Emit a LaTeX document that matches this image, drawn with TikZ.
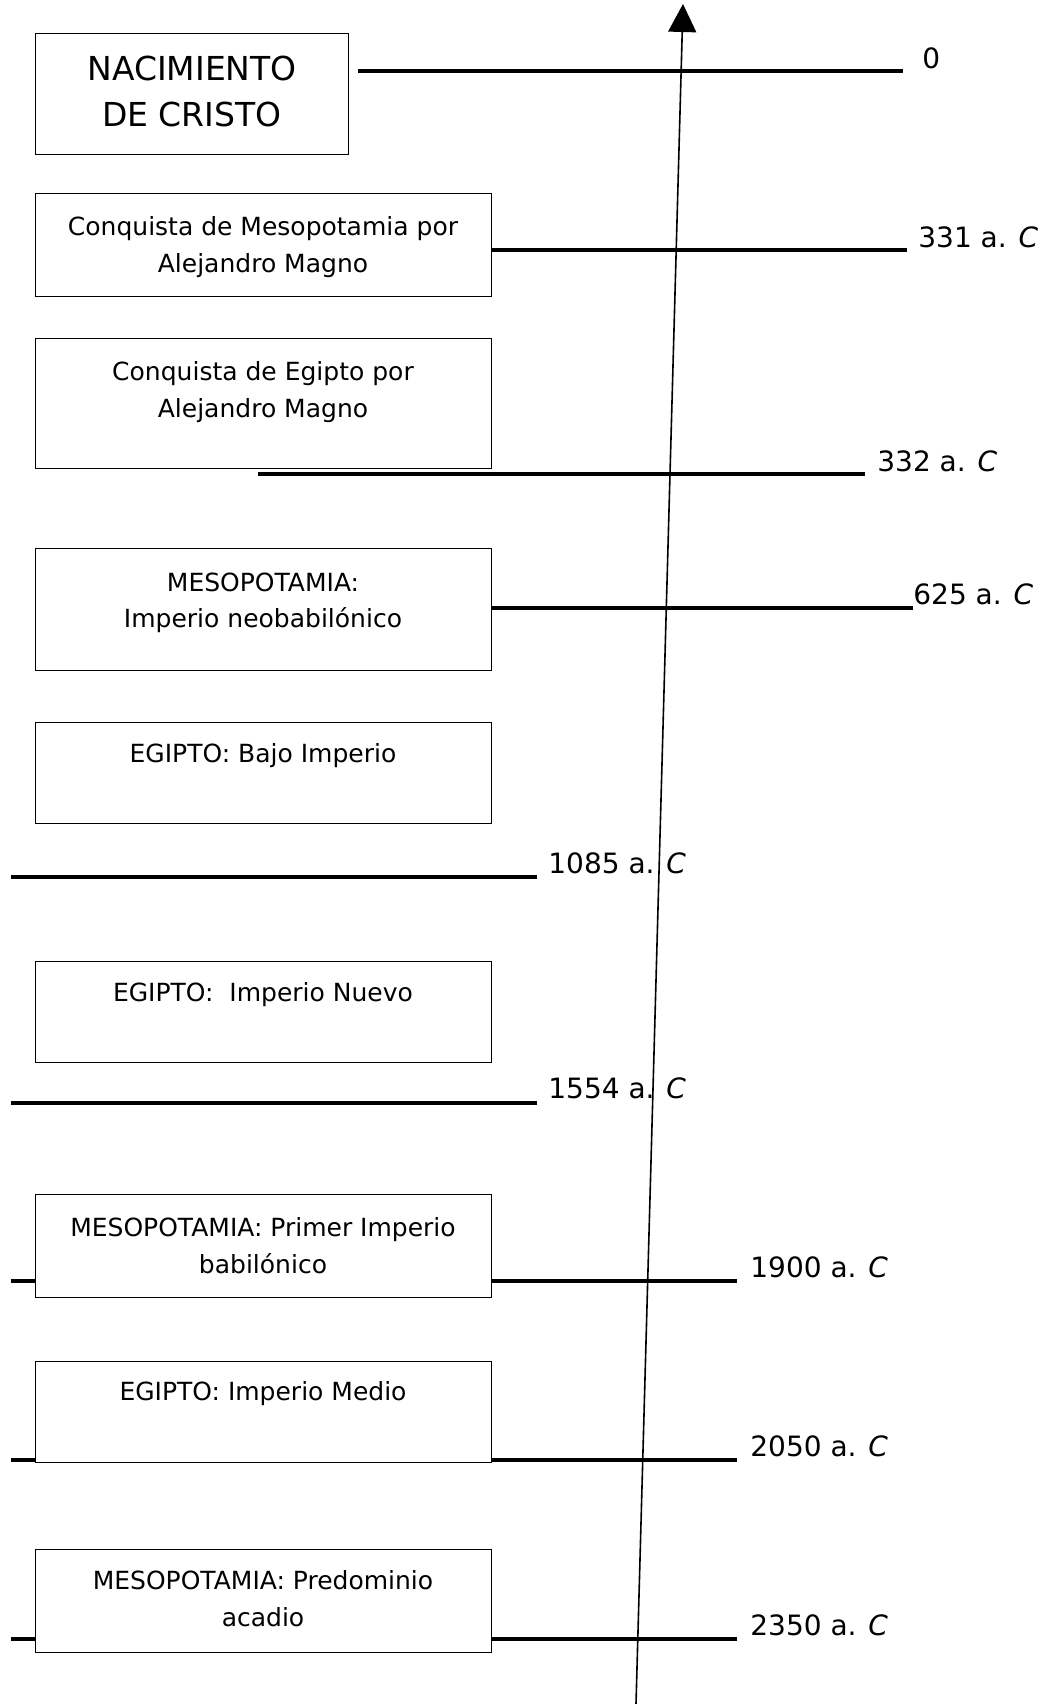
\documentclass[tikz,border=0pt]{standalone}
\usepackage{fontspec}
\setmainfont{DejaVu Sans}
\usetikzlibrary{arrows.meta,calc}
\begin{document}
\begin{tikzpicture}[x=0.5pt,y=-0.5pt,
  box/.style={draw, line width=0.6pt, fill=white, minimum width=228pt, anchor=north west, inner sep=0pt},
  txt/.style={anchor=base, inner sep=0pt, font=\fontsize{12.5}{15}\selectfont},
  bigtxt/.style={anchor=base, inner sep=0pt, font=\fontsize{16.5}{20}\selectfont},
  date/.style={anchor=base west, inner sep=0pt, font=\fontsize{14}{17}\selectfont},
  tick/.style={line width=1.7pt},
  axis/.style={line width=0.8pt, -{Triangle[length=14pt, width=14pt]}}]
\fill[white] (0,0) rectangle (1041,1704);
\useasboundingbox (0,0) rectangle (1041,1704);

% date lines
\coordinate (l0a) at (358,71);   \coordinate (l0b) at (903,71);
\coordinate (l1a) at (491,250);  \coordinate (l1b) at (907,250);
\coordinate (l2a) at (258,474);  \coordinate (l2b) at (865,474);
\coordinate (l3a) at (491,608);  \coordinate (l3b) at (913,608);
\coordinate (l4a) at (11,877);   \coordinate (l4b) at (537,877);
\coordinate (l5a) at (11,1103);  \coordinate (l5b) at (537,1103);
\coordinate (l6a) at (11,1281);  \coordinate (l6b) at (737,1281);
\coordinate (l7a) at (11,1460);  \coordinate (l7b) at (737,1460);
\coordinate (l8a) at (11,1639);  \coordinate (l8b) at (737,1639);
\foreach \i in {0,...,8} {\draw[tick] (l\i a) -- (l\i b);}

% date labels
\node[date] (d0) at (922,68) {0};
\node[date] (d1) at (918,247) {331 a. \textit{C}};
\node[date] (d2) at (877,471) {332 a. \textit{C}};
\node[date] (d3) at (913,604) {625 a. \textit{C}};
\node[date] (d4) at (548,873) {1085 a. \textit{C}};
\node[date] (d5) at (548,1098) {1554 a. \textit{C}};
\node[date] (d6) at (750,1277) {1900 a. \textit{C}};
\node[date] (d7) at (750,1456) {2050 a. \textit{C}};
\node[date] (d8) at (750,1635) {2350 a. \textit{C}};

% boxes
\node[box, minimum width=156.5pt, minimum height=60.5pt] (b0) at (35,33) {};
\node[box, minimum height=51.5pt] (b1) at (35,193) {};
\node[box, minimum height=65pt]   (b2) at (35,338) {};
\node[box, minimum height=61pt]   (b3) at (35,548) {};
\node[box, minimum height=50.5pt] (b4) at (35,722) {};
\node[box, minimum height=50.5pt] (b5) at (35,961) {};
\node[box, minimum height=51.5pt] (b6) at (35,1194) {};
\node[box, minimum height=50.5pt] (b7) at (35,1361) {};
\node[box, minimum height=51.5pt] (b8) at (35,1549) {};

% box texts
\node[bigtxt] (t0a) at (192,80) {NACIMIENTO};
\node[bigtxt] (t0b) at (192,126) {DE CRISTO};
\node[txt] (t1a) at (263,235) {Conquista de Mesopotamia por};
\node[txt] (t1b) at (263,272) {Alejandro Magno};
\node[txt] (t2a) at (263,380) {Conquista de Egipto por};
\node[txt] (t2b) at (263,417) {Alejandro Magno};
\node[txt] (t3a) at (263,591) {MESOPOTAMIA:};
\node[txt] (t3b) at (263,627) {Imperio neobabilónico};
\node[txt] (t4a) at (263,762) {EGIPTO: Bajo Imperio};
\node[txt] (t5a) at (263,1001) {EGIPTO:\ \ Imperio Nuevo};
\node[txt] (t6a) at (263,1236) {MESOPOTAMIA: Primer Imperio};
\node[txt] (t6b) at (263,1273) {babilónico};
\node[txt] (t7a) at (263,1400) {EGIPTO: Imperio Medio};
\node[txt] (t8a) at (263,1589) {MESOPOTAMIA: Predominio};
\node[txt] (t8b) at (263,1626) {acadio};

% time axis
\coordinate (axb) at (636,1704);
\coordinate (axt) at (683,4);
\draw[axis] (axb) -- (axt);
\end{tikzpicture}
\end{document}
